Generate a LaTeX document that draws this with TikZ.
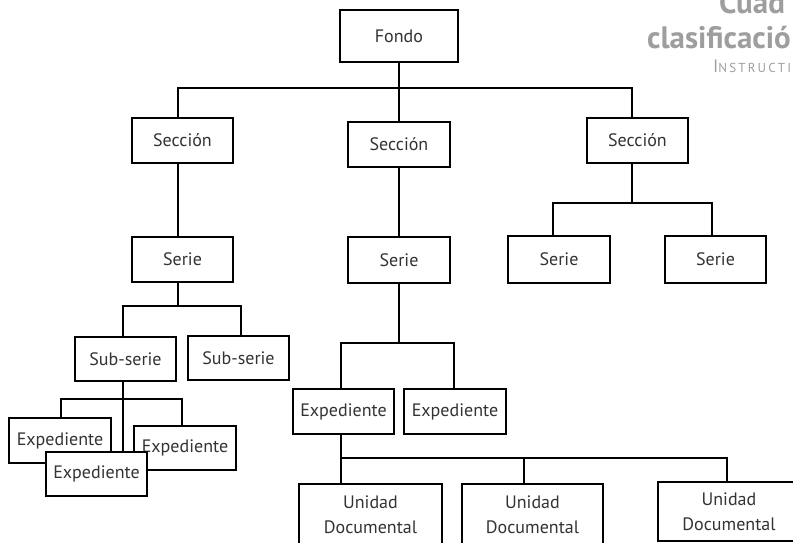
\documentclass[tikz,border=0pt]{standalone}
\usepackage{fontspec}
\setmainfont{PT Sans}
\begin{document}
\begin{tikzpicture}[x=1pt,y=-1pt,
  bx/.style={draw, line width=2.2pt, fill=white, inner sep=0pt, align=center,
    text=black!80, font=\fontsize{18}{25}\selectfont},
  ln/.style={line width=2.2pt},
  ttl/.style={text=black!38, inner sep=0pt, anchor=base west}]
\useasboundingbox (0,0) rectangle (793,542);
\clip (0,0) rectangle (793,542);
% title
\node[ttl, font=\bfseries\fontsize{31}{31}\selectfont] (t1) at (719,13) {Cuad};
\node[ttl, font=\bfseries\fontsize{31}{31}\selectfont] (t2) at (647,48) {clasificació};
\node[ttl, font=\fontsize{13}{13}\selectfont] (t3) at (713,72) {{\fontsize{18}{18}\selectfont I}N\,S\,T\,R\,U\,C\,T\,I};
% boxes
\node[bx, minimum width=118, minimum height=52] (fondo) at (399,36) {Fondo};
\node[bx, minimum width=101, minimum height=45] (sec1) at (182.5,140.5) {Sección};
\node[bx, minimum width=102, minimum height=45] (sec2) at (399,144.5) {Sección};
\node[bx, minimum width=101, minimum height=45] (sec3) at (637.5,140.5) {Sección};
\node[bx, minimum width=101, minimum height=45] (ser1) at (182.5,259.5) {Serie};
\node[bx, minimum width=102, minimum height=46] (ser2) at (399,260) {Serie};
\node[bx, minimum width=102, minimum height=47] (ser3a) at (559,259.5) {Serie};
\node[bx, minimum width=101, minimum height=47] (ser3b) at (715.5,259.5) {Serie};
\node[bx, minimum width=101, minimum height=44] (sub1) at (125.5,359) {Sub-serie};
\node[bx, minimum width=101, minimum height=44] (sub2) at (238.5,358) {Sub-serie};
\node[bx, minimum width=101, minimum height=45] (expA) at (343.5,411.5) {Expediente};
\node[bx, minimum width=102, minimum height=45] (expB) at (455,411.5) {Expediente};
\node[bx, minimum width=143, minimum height=62] (ud1) at (370.5,515) {Unidad\\Documental};
\node[bx, minimum width=141, minimum height=62] (ud2) at (532.5,515) {Unidad\\Documental};
\node[bx, minimum width=142, minimum height=59] (ud3) at (729,511.5) {Unidad\\Documental};
% connectors level 1
\coordinate (j1) at (178,88);
\coordinate (j3) at (632,88);
\draw[ln] (fondo.south) -- (fondo.south |- j1);
\draw[ln] (j1 |- sec1.north) -- (j1) -- (j3) -- (j3 |- sec3.north);
\draw[ln] (sec2.north) -- (sec2.north |- j1);
\draw[ln] (j1 |- sec1.south) -- (j1 |- ser1.north);
\draw[ln] (sec2.south) -- (ser2.north);
% section 3
\coordinate (k1) at (553,203);
\coordinate (k2) at (712,203);
\draw[ln] (j3 |- sec3.south) -- (j3 |- k1);
\draw[ln] (k1 |- ser3a.north) -- (k1) -- (k2) -- (k2 |- ser3b.north);
% serie 1
\coordinate (m1) at (123,306);
\coordinate (m2) at (241,306);
\draw[ln] (j1 |- ser1.south) -- (j1 |- m1);
\draw[ln] (m1 |- sub1.north) -- (m1) -- (m2) -- (m2 |- sub2.north);
% serie 2
\coordinate (n1) at (341,343);
\coordinate (n2) at (454,343);
\draw[ln] (ser2.south) -- (ser2.south |- n1);
\draw[ln] (n1 |- expA.north) -- (n1) -- (n2) -- (n2 |- expB.north);
% expediente A
\coordinate (p1) at (341,458);
\coordinate (p2) at (524,458);
\coordinate (p3) at (727,458);
\draw[ln] (p1 |- expA.south) -- (p1) |- (p3) -- (p3 |- ud3.north);
\draw[ln] (p1) -- (p1 |- ud1.north);
\draw[ln] (p2) -- (p2 |- ud2.north);
% sub-serie expedientes
\coordinate (q1) at (61,399);
\coordinate (q2) at (182,399);
\node[bx, minimum width=102, minimum height=45] (expL) at (60,440.5) {Expediente};
\node[bx, minimum width=102, minimum height=44] (expR) at (185,448) {Expediente};
\draw[ln] (q1 |- expL.north) -- (q1) -- (q2) -- (q2 |- expR.north);
\node[bx, minimum width=101, minimum height=44] (expM) at (96.5,474) {Expediente};
\draw[ln] (m1 |- sub1.south) -- (m1 |- expM.north);
\end{tikzpicture}
\end{document}
